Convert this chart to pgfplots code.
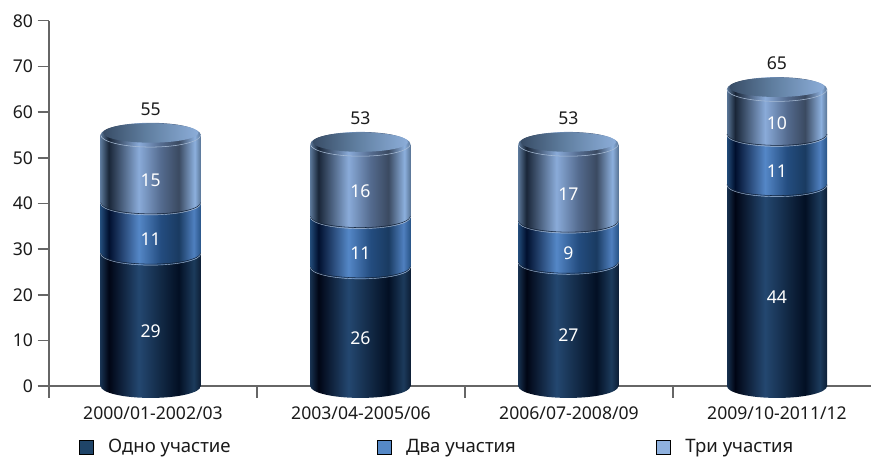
\documentclass[border=0pt]{standalone}
\usepackage{fontspec}
\setmainfont{Noto Sans}
\usepackage{pgfplots}
\usepackage{pgfplotstable}
\pgfplotsset{compat=1.18}
\definecolor{legA}{HTML}{1F4468}
\definecolor{legB}{HTML}{5588C6}
\definecolor{legC}{HTML}{8FB1DE}
\definecolor{axisg}{HTML}{666666}
\definecolor{txt}{HTML}{1A1A1A}
\definecolor{hiA}{HTML}{A9BDD6}
\definecolor{loA}{HTML}{14243A}
\pgfdeclarehorizontalshading{cylTop}{100bp}{rgb(0bp)=(.35,.46,.59);rgb(25bp)=(.35,.46,.59);rgb(29bp)=(.10,.15,.22);rgb(44bp)=(.54,.67,.85);rgb(55bp)=(.33,.42,.56);rgb(64bp)=(.23,.29,.38);rgb(72bp)=(.55,.69,.87);rgb(75bp)=(.35,.46,.59);rgb(100bp)=(.35,.46,.59)}
\pgfdeclarehorizontalshading{cylMid}{100bp}{rgb(0bp)=(.13,.29,.47);rgb(25bp)=(.13,.29,.47);rgb(29bp)=(0,.06,.18);rgb(44bp)=(.33,.53,.78);rgb(55bp)=(.14,.30,.50);rgb(64bp)=(.10,.23,.38);rgb(71.5bp)=(.31,.50,.75);rgb(75bp)=(.16,.33,.53);rgb(100bp)=(.16,.33,.53)}
\pgfdeclarehorizontalshading{cylDark}{100bp}{rgb(0bp)=(.09,.19,.31);rgb(25bp)=(.09,.19,.31);rgb(29bp)=(0,.02,.08);rgb(44bp)=(.14,.28,.44);rgb(55bp)=(.07,.16,.27);rgb(64bp)=(.01,.06,.14);rgb(71.5bp)=(.11,.23,.36);rgb(75bp)=(.05,.12,.21);rgb(100bp)=(.05,.12,.21)}
\pgfdeclarehorizontalshading{cylIn}{100bp}{rgb(0bp)=(.22,.30,.40);rgb(25bp)=(.22,.30,.40);rgb(47bp)=(.37,.49,.62);rgb(75bp)=(.55,.68,.85);rgb(100bp)=(.55,.68,.85)}
\pgfdeclareplotmark{bottomDark}{\shade[draw=none,shading=cylDark] (-37.5pt,0.5pt) -- (-37.5pt,0pt) arc[start angle=180,end angle=360,x radius=37.5pt,y radius=8.8pt] -- (37.5pt,0.5pt) -- cycle;}
\pgfdeclareplotmark{sagMid}{\shade[draw=none,shading=cylMid] (-37.5pt,0.3pt) -- (-37.5pt,0pt) arc[start angle=180,end angle=360,x radius=37.5pt,y radius=8.6pt] -- (37.5pt,0.3pt) -- cycle;
 \draw[draw=loA,line width=.4pt] (-37.5pt,.6pt) arc[start angle=180,end angle=360,x radius=37.5pt,y radius=8.4pt];
 \draw[draw=hiA,line width=.3pt] (-37.5pt,0pt) arc[start angle=180,end angle=360,x radius=37.5pt,y radius=8.6pt];}
\pgfdeclareplotmark{sagTop}{\shade[draw=none,shading=cylTop] (-37.5pt,0.3pt) -- (-37.5pt,0pt) arc[start angle=180,end angle=360,x radius=37.5pt,y radius=8.6pt] -- (37.5pt,0.3pt) -- cycle;
 \draw[draw=loA,line width=.4pt] (-37.5pt,.6pt) arc[start angle=180,end angle=360,x radius=37.5pt,y radius=8.4pt];
 \draw[draw=hiA,line width=.3pt] (-37.5pt,0pt) arc[start angle=180,end angle=360,x radius=37.5pt,y radius=8.6pt];}
\pgfdeclareplotmark{topEll}{\shade[draw=none,shading=cylTop] (0pt,0pt) ellipse[x radius=37.5pt,y radius=9.1pt];
 \draw[draw=hiA,line width=.4pt] (-37.5pt,0pt) arc[start angle=180,end angle=360,x radius=37.5pt,y radius=9.1pt];
 \shade[draw=none,shading=cylIn] (0pt,1.5pt) ellipse[x radius=35.6pt,y radius=7.3pt];}
\pgfplotstableread{
x      one two three c1 c2 total m1    m2    m3
-0.011 29  11  15    29 40 55    14.5  34.5  47.5
0.997  26  11  16    26 37 53    13    31.5  45
1.997  27  9   17    27 36 53    13.5  31.5  44.5
3.000  44  11  10    44 55 65    22    49.5  60
}\data
\pgfplotsset{common/.style={
  at={(36.75pt,53.1pt)}, anchor=south west,
  scale only axis, width=616.5pt, height=274.1pt,
  /pgf/number format/assume math mode=true,
  clip=false, xmin=-0.5, xmax=3.452, ymin=0, ymax=80}}
\newcommand\cyl[4]{%
\begin{axis}[common, hide axis, ybar stacked, reverse stacked plots=false, bar width=75pt]
\addplot[forget plot, draw=none, shade, shading=cylDark] coordinates {(#1,#2)};
\addplot[forget plot, draw=none, shade, shading=cylMid] coordinates {(#1,#3)};
\addplot[forget plot, draw=none, shade, shading=cylTop] coordinates {(#1,#4)};
\end{axis}}
\newcommand\labelplot[3]{%
\addplot[forget plot, draw=none, mark=none, nodes near coords, point meta=explicit,
  nodes near coords style={anchor=center, text=#3, font=\fontsize{13.2}{16}\selectfont}]
  table[x=x,y=#1,meta=#2] {\data};}
\begin{document}
\begin{tikzpicture}[x=1pt,y=1pt]
\useasboundingbox (0,0) rectangle (653.25pt,342.75pt);
\begin{axis}[common,
  axis lines=left, axis line style={-,axisg,line width=1.1pt},
  tick align=outside, tick style={axisg,line width=1.1pt},
  major tick length=8.5pt,
  xtick={-0.5,0.5,1.5,2.5},
  xticklabels={},
  extra x ticks={0,1,2,3},
  extra x tick labels={2000/01-2002/03,2003/04-2005/06,2006/07-2008/09,2009/10-2011/12},
  extra x tick style={major tick length=0pt},
  ytick={0,10,...,80},
  tick label style={font=\fontsize{13.2}{16}\selectfont, text=txt},
  xticklabel style={yshift=-11.5pt},
  legend columns=3,
  legend cell align=left,
  legend style={draw=none, fill=none, at={(axis description cs:0,0)}, anchor=north west,
    xshift=22.5pt, yshift=-40pt, inner sep=0pt, outer sep=0pt,
    font=\fontsize{13.9}{16}\selectfont, text=txt,
    /tikz/every even column/.append style={column sep=105.25pt},
    nodes={inner sep=0pt}},
  legend image code/.code={\fill[#1] (0pt,-5.25pt) rectangle (10.5pt,5.25pt);},
]
\addplot[forget plot, only marks, mark=bottomDark, mark options={draw=none}] table[x=x,y expr=0] {\data};
\addlegendimage{fill=legA}
\addlegendentry{\hspace*{11pt}Одно участие\hspace*{4.5pt}}
\addlegendimage{fill=legB}
\addlegendentry{\hspace*{11pt}Два участия}
\addlegendimage{fill=legC}
\addlegendentry{\hspace*{11pt}Три участия}
\end{axis}
\cyl{-0.011}{29}{11}{15}
\cyl{0.997}{26}{11}{16}
\cyl{1.997}{27}{9}{17}
\cyl{3.000}{44}{11}{10}
\begin{axis}[common, hide axis]
\addplot[forget plot, only marks, mark=sagMid, mark options={draw=none}] table[x=x,y=c1] {\data};
\addplot[forget plot, only marks, mark=sagTop, mark options={draw=none}] table[x=x,y=c2] {\data};
\addplot[forget plot, only marks, mark=topEll, mark options={draw=none}] table[x=x,y=total] {\data};
\end{axis}
\begin{axis}[common, hide axis,
  nodes near coords style={yshift=-8.25pt}]
\labelplot{m1}{one}{white}
\labelplot{m2}{two}{white}
\labelplot{m3}{three}{white}
\end{axis}
\begin{axis}[common, hide axis,
  nodes near coords style={yshift=19.2pt}]
\labelplot{total}{total}{txt}
\end{axis}
\end{tikzpicture}
\end{document}
